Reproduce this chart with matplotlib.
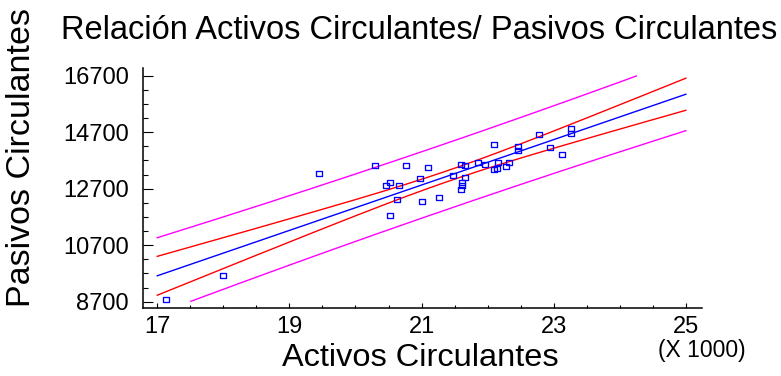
import numpy as np
import matplotlib
matplotlib.use('Agg')
import matplotlib.pyplot as plt

plt.rcParams['font.family'] = ['Liberation Sans', 'DejaVu Sans']

# datos
activos = [17130, 18000, 19450, 20300, 20760, 21100, 20530, 20460, 20660,
           20980, 20630, 21000, 20530, 21270, 21470, 21590, 21650, 21650,
           21610, 21610, 21600, 21860, 21960, 22100, 22090, 22140, 22160,
           22280, 22320, 22460, 22460, 22780, 22940, 23120, 23260, 23260]
pasivos = [8785, 9645, 13245, 13546, 13521, 13458, 12937, 12821, 12824,
           13068, 12336, 12265, 11780, 12417, 13185, 13575, 13539, 13097,
           12930, 12831, 12697, 13645, 13575, 14290, 13405, 13422, 13635,
           13486, 13649, 14194, 14056, 14619, 14166, 13918, 14849, 14654]

xticks = [17, 19, 21, 23, 25]
yticks = [8700, 10700, 12700, 14700, 16700]
t_crit = 2.032  # t(0.975, 34 gl)

x = np.array(activos) / 1000.0
y = np.array(pasivos, dtype=float)
n = len(x)

# ajuste lineal + bandas
b1, b0 = np.polyfit(x, y, 1)
res = y - (b0 + b1*x)
s = np.sqrt(np.sum(res**2)/(n-2))
sxx = np.sum((x - x.mean())**2)

xs = np.linspace(xticks[0], xticks[-1], 300)
yfit = b0 + b1*xs
conf = t_crit*s*np.sqrt(1.0/n + (xs - x.mean())**2/sxx)
pred = t_crit*s*np.sqrt(1 + 1.0/n + (xs - x.mean())**2/sxx)

def clip(v):
    return np.where((v >= yticks[0]) & (v <= yticks[-1]), v, np.nan)

fig = plt.figure(figsize=(7.81, 3.76), dpi=100)
ax = fig.add_axes([0.1827, 0.1809, 0.7158, 0.6383])

ax.plot(xs, clip(yfit), color='#0000ff', lw=1.0)
ax.plot(xs, clip(yfit + conf), color='#ff0000', lw=1.0)
ax.plot(xs, clip(yfit - conf), color='#ff0000', lw=1.0)
ax.plot(xs, clip(yfit + pred), color='#ff00ff', lw=1.0)
ax.plot(xs, clip(yfit - pred), color='#ff00ff', lw=1.0)

caja = [(-1, -0.72), (1, -0.72), (1, 0.72), (-1, 0.72), (-1, -0.72)]
ax.plot(x, y, linestyle='none', marker=caja, markersize=5.0,
        markerfacecolor='none', markeredgecolor='#0000ff', markeredgewidth=0.95)

ax.set_xlim(16.78, 25.24)
ax.set_ylim(8477, 16973)
ax.set_xticks(xticks)
ax.set_xticks(np.arange(17, 25.01, 0.5), minor=True)
ax.set_yticks(yticks)
ax.set_yticks(np.arange(8700, 16701, 500), minor=True)

for side in ['top', 'right']:
    ax.spines[side].set_visible(False)
for side in ['left', 'bottom']:
    ax.spines[side].set_linewidth(1.1)

ax.tick_params(axis='x', which='major', direction='in', length=3.8, width=0.8,
               labelsize=17, pad=6)
ax.tick_params(axis='x', which='minor', direction='in', length=2, width=0.8)
ax.tick_params(axis='y', which='major', direction='in', length=7.5, width=0.8,
               labelsize=17, pad=10)
ax.tick_params(axis='y', which='minor', direction='in', length=3.8, width=0.8)

fig.text(0.537, 0.918, 'Relación Activos Circulantes/ Pasivos Circulantes',
         ha='center', va='center', fontsize=23.5)
fig.text(0.538, 0.047, 'Activos Circulantes', ha='center', va='center',
         fontsize=23.4)
fig.text(0.028, 0.582, 'Pasivos Circulantes', ha='center', va='center',
         fontsize=24.5, rotation=90)
fig.text(0.898, 0.068, '(X 1000)', ha='center', va='center', fontsize=16.5)

fig.savefig('out.png', dpi=100)
